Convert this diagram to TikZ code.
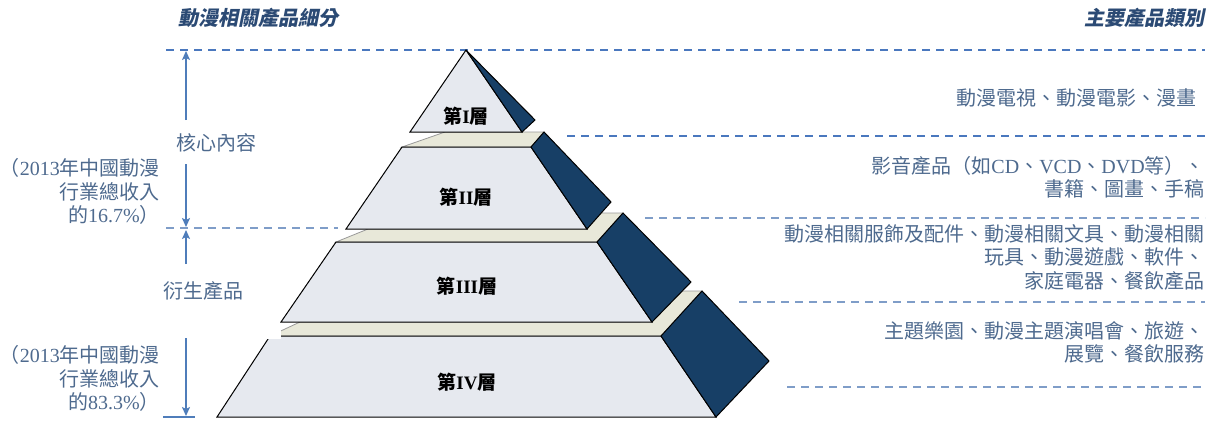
\documentclass[tikz,border=0pt]{standalone}
\usepackage{fontspec}
\setmainfont{Liberation Serif}
\newfontfamily\cjk{Noto Sans CJK TC}
\newfontfamily\cjkit{Noto Sans CJK TC}[FakeSlant=0.2]
\usetikzlibrary{arrows.meta}
\definecolor{txtc}{HTML}{4E6A8E}
\definecolor{hdrc}{HTML}{2B4A74}
\definecolor{arrc}{HTML}{4F7DBA}
\definecolor{dashA}{HTML}{4A78BE}
\definecolor{dashB}{HTML}{7F9DC8}
\definecolor{facec}{HTML}{E6E9EF}
\definecolor{darkc}{HTML}{173F66}
\definecolor{beigec}{HTML}{E8E8D9}
\newcommand{\zh}[1]{{\cjk #1}}
\tikzset{
  sidetext/.style={inner sep=0pt, text=txtc, font=\fontsize{20}{23.5}\selectfont},
  hdrtext/.style={inner sep=0pt, text=hdrc, font=\fontsize{20}{24}\selectfont\cjkit\bfseries},
  tiertext/.style={inner sep=0pt, text=black, font=\fontsize{19}{21}\selectfont\bfseries},
  frontface/.style={fill=facec, draw=black, line width=1pt, line join=miter},
  darkface/.style={fill=darkc, draw=black, line width=1pt},
  ledge/.style={fill=beigec, draw=gray!80, line width=0.8pt},
  arr/.style={draw=arrc, line width=1.6pt, -{Stealth[length=9pt,width=8pt,inset=2pt]}},
  dlineA/.style={draw=dashA, line width=1.3pt, dash pattern=on 8pt off 6pt},
  dlineB/.style={draw=dashB, line width=1.3pt, dash pattern=on 8pt off 6pt},
}
\begin{document}
\begin{tikzpicture}[x=1pt,y=-1pt]
\useasboundingbox (0,0) rectangle (1214,420);

% dashed guide lines
\coordinate (d1a) at (166,50);  \coordinate (d1b) at (1205,50);
\coordinate (d2a) at (567,136); \coordinate (d2b) at (1205,136);
\coordinate (d3a) at (645,218); \coordinate (d3b) at (1205,218);
\coordinate (d4a) at (739,302); \coordinate (d4b) at (1205,302);
\coordinate (d5a) at (787,387); \coordinate (d5b) at (1205,387);
\coordinate (d6a) at (166,228); \coordinate (d6b) at (338,228);
\draw[dlineA] (d1a) -- (d1b);
\draw[dlineA] (d2a) -- (d2b);
\draw[dlineB] (d3a) -- (d3b);
\draw[dlineB] (d4a) -- (d4b);
\draw[dlineB] (d5a) -- (d5b);
\draw[dlineB] (d6a) -- (d6b);

% tier IV
\draw[ledge] (270,336) -- (300,322) -- (640,322) -- (683,291) -- (702,291) -- (661,336) -- cycle;
\draw[frontface] (270,336) -- (661,336) -- (716,417) -- (217,417) -- cycle;
\draw[darkface] (661,336) -- (702,291) -- (769,361) -- (716,417) -- cycle;
\fill[white] (250,322.6) rectangle (281,339);
% tier III
\draw[ledge] (336,242) -- (368,229) -- (587,229) -- (600,213) -- (623,213) -- (597,242) -- cycle;
\draw[frontface] (336,242) -- (597,242) -- (652,322) -- (281,322) -- cycle;
\draw[darkface] (597,242) -- (623,213) -- (691,282) -- (652,322) -- cycle;
% tier II
\draw[ledge] (402,147) -- (445,132) -- (544,132) -- (531,147) -- cycle;
\draw[frontface] (402,147) -- (531,147) -- (587,229) -- (346,229) -- cycle;
\draw[darkface] (531,147) -- (544,132) -- (611,202) -- (587,229) -- cycle;
% tier I
\draw[frontface] (466,50) -- (522,132) -- (410,132) -- cycle;
\draw[darkface] (466,50) -- (535,120) -- (522,132) -- cycle;

% tier labels
\node[tiertext] (t1) at (466,116) {\zh{第}I\zh{層}};
\node[tiertext] (t2) at (466,197) {\zh{第}II\zh{層}};
\node[tiertext] (t3) at (467,286) {\zh{第}III\zh{層}};
\node[tiertext] (t4) at (467,382) {\zh{第}IV\zh{層}};

% headers
\node[hdrtext] (h1) at (258,18) {動漫相關產品細分};
\node[hdrtext, anchor=east] (h2) at (1205,18) {主要產品類別};

% left labels
\node[sidetext] (core) at (216,143) {\zh{核心內容}};
\node[sidetext] (deriv) at (203,291) {\zh{衍生產品}};
\node[sidetext, anchor=east, align=right] (lb1) at (160,191.5)
  {\zh{（}2013\zh{年中國動漫}\\ \zh{行業總收入}\\ \zh{的}16.7\%\zh{）}};
\node[sidetext, anchor=east, align=right] (lb2) at (160,378.5)
  {\zh{（}2013\zh{年中國動漫}\\ \zh{行業總收入}\\ \zh{的}83.3\%\zh{）}};

% arrows
\coordinate (a1s) at (186,120); \coordinate (a1t) at (186,51);
\coordinate (a2s) at (186,164); \coordinate (a2t) at (186,227);
\coordinate (a3s) at (186,264); \coordinate (a3t) at (186,230);
\coordinate (a4s) at (186,338); \coordinate (a4t) at (186,416);
\coordinate (b1) at (163,417);  \coordinate (b2) at (195,417);
\draw[arr] (a1s) -- (a1t);
\draw[arr] (a2s) -- (a2t);
\draw[arr] (a3s) -- (a3t);
\draw[arr] (a4s) -- (a4t);
\draw[draw=arrc, line width=1.6pt] (b1) -- (b2);

% right labels
\node[sidetext, anchor=east, align=right] (r1) at (1197,98) {\zh{動漫電視、動漫電影、漫畫}};
\node[sidetext, anchor=east, align=right] (r2) at (1205,177.5)
  {\zh{影音產品（如}CD\zh{、}VCD\zh{、}DVD\zh{等）、}\\ \zh{書籍、圖畫、手稿}};
\node[sidetext, anchor=east, align=right] (r3) at (1205,257)
  {\zh{動漫相關服飾及配件、動漫相關文具、動漫相關}\\ \zh{玩具、動漫遊戲、軟件、}\\ \zh{家庭電器、餐飲產品}};
\node[sidetext, anchor=east, align=right] (r4) at (1205,342.5)
  {\zh{主題樂園、動漫主題演唱會、旅遊、}\\ \zh{展覽、餐飲服務}};
\end{tikzpicture}
\end{document}
